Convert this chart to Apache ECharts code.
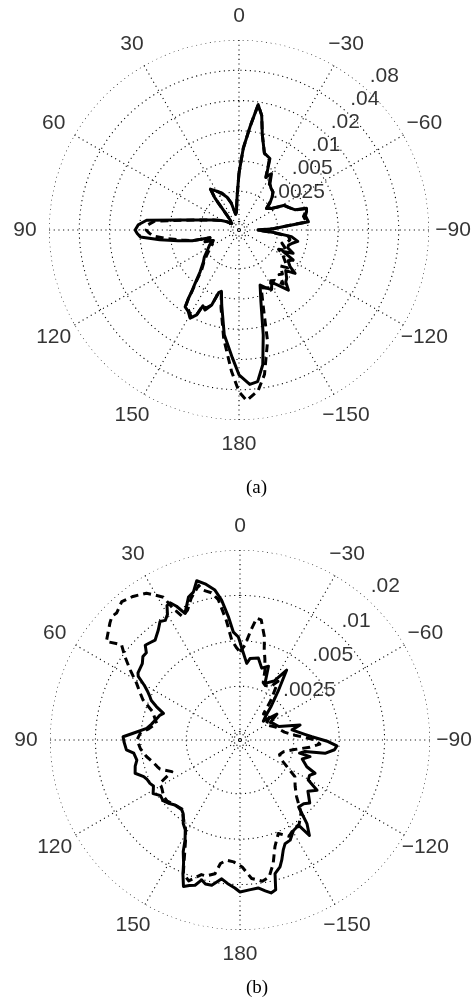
<!DOCTYPE html>
<html><head><meta charset="utf-8">
<script src="https://cdn.jsdelivr.net/npm/echarts@6/dist/echarts.min.js"></script>
<style>html,body{margin:0;padding:0;background:#fff}#c{width:475px;height:1008px}</style>
</head><body><div id="c"></div>
<script>
// ---- tick labels ----
const angleTicks = [0,30,60,90,120,150,180,210,240,270,300,330];
const angleTickLabels = ['0','30','60','90','120','150','180','\u2212150','\u2212120','\u221290','\u221260','\u221230'];
const ringValuesA = [0.00125,0.0025,0.005,0.01,0.02,0.04,0.08];
const ringLabelValuesA = [0.0025,0.005,0.01,0.02,0.04,0.08];
const ringLabelTextA = ['.0025','.005','.01','.02','.04','.08'];
const ringValuesB = [0.00125,0.0025,0.005,0.01,0.02];
const ringLabelValuesB = [0.0025,0.005,0.01,0.02];
const ringLabelTextB = ['.0025','.005','.01','.02'];
const panelLabels = ['(a)','(b)'];

// ---- data: [angle (deg, CCW from top), value] ----
const topSolid = [[0,.00379],[3,.00229],[5.3,.00182],[8,.00156],[12,.00149],[16,.00195],[20,.00229],[25,.00257],[30,.00288],[35,.00323],[37,.00257],[39,.00163],[42,.00136],[50,.00129],[56,.00145],[62,.00163],[69,.00195],[75,.00251],[80,.00388],[84,.00865],[87,.01038],[90,.01112],[92,.01062],[94,.00992],[97,.00642],[100,.00425],[103,.00309],[105,.00205],[109,.00235],[112,.00195],[117,.00219],[124,.00251],[128,.00282],[132,.00309],[137,.00379],[140.5,.00499],[142.5,.00613],[143.5,.0072],[145,.00885],[148,.00926],[151,.01038],[153.5,.00905],[154.5,.00704],[157,.00754],[160,.00642],[162,.00466],[164,.00445],[167,.006],[172,.01164],[177,.01925],[180,.0284],[184,.0357],[187,.0341],[190,.02366],[193,.01218],[197,.00573],[201,.00397],[205,.00445],[208.6,.00488],[212,.00425],[215.5,.00488],[219.4,.00613],[222,.00511],[224.6,.00488],[229,.00425],[232.3,.00523],[234.3,.00435],[238,.00388],[241.1,.00425],[244,.00316],[246.8,.00397],[250,.00338],[253,.00338],[256,.00362],[259,.00406],[262.8,.00346],[266,.00229],[270,.00159],[272,.00229],[274.3,.00282],[276.8,.00511],[282,.00488],[285,.00511],[287.8,.00523],[289.7,.00406],[294,.00362],[298.5,.00338],[303.6,.00251],[308,.00229],[311,.00263],[315,.00302],[318.2,.00331],[323,.00346],[326.4,.00371],[330,.00456],[333,.00406],[335.2,.00511],[336.6,.00613],[341.7,.00657],[346.2,.00969],[348.8,.01497],[351.3,.01882],[353.9,.01112],[357,.00672],[360,.00379]];

const topDashed = [[0,.00379],[3,.00229],[5.3,.00182],[8,.00156],[12,.00149],[16,.00195],[20,.00229],[25,.00263],[30,.00288],[35,.00316],[37,.00257],[39,.00163],[42,.00136],[50,.00129],[56,.00145],[62,.00163],[69,.00195],[75,.00251],[80,.00371],[84,.0072],[87,.00845],[90,.00865],[92,.00807],[94,.00737],[97,.00535],[100,.00388],[103,.00302],[105,.00205],[109,.00229],[112,.00195],[117,.00205],[124,.00235],[128,.00263],[132,.00302],[137,.00362],[140.5,.00488],[142.5,.006],[143.5,.0072],[145,.00865],[148,.00905],[151,.00992],[153.5,.00885],[154.5,.00704],[157,.0072],[160,.00642],[162,.00466],[164,.00445],[167,.00642],[172,.01275],[177,.0265],[180,.0419],[182.6,.0515],[186.8,.0419],[190,.0297],[194.4,.0143],[197,.0072],[201,.00425],[205,.00445],[208.6,.00466],[212,.00406],[215.5,.00425],[219.4,.00511],[222,.00406],[224.6,.00425],[229,.00362],[232.3,.00425],[234.3,.00388],[238,.00346],[241.1,.00323],[244,.00282],[246.8,.00338],[250,.00309],[253,.00288],[256,.00323],[259,.00338],[262.8,.00323],[266,.00219],[270,.00156],[272,.00219],[274.3,.00282],[276.8,.00488],[282,.00466],[285,.00499],[287.8,.00511],[289.7,.00406],[294,.00362],[298.5,.00331],[303.6,.00251],[308,.00229],[311,.00257],[315,.00302],[318.2,.00331],[323,.00346],[326.4,.00362],[330,.00435],[333,.00397],[335.2,.00499],[336.6,.00588],[341.7,.00657],[346.2,.00969],[348.8,.01497],[351.3,.01882],[353.9,.01112],[357,.00672],[360,.00379]];

const bottomSolid = [[0,.00491],[0.9,.0053],[3.5,.00572],[5.4,.0073],[7.5,.00947],[9.5,.0112],[12.6,.01266],[15.2,.01366],[17.5,.01173],[19.8,.0112],[23.5,.00905],[25.4,.01054],[27,.01155],[28.5,.01137],[30,.01007],[32,.00947],[34,.00976],[36.6,.00891],[40.4,.00813],[43.5,.00838],[45,.00851],[47,.00777],[49.3,.00777],[52,.0073],[56.7,.00709],[58,.00687],[60.3,.0059],[62,.00547],[64.3,.00506],[66,.00484],[68.2,.00435],[70.8,.00379],[73,.00397],[76.8,.00415],[80,.00435],[82.9,.00462],[86.4,.00564],[88.4,.00656],[91,.00646],[95,.00627],[97.1,.00564],[101,.00547],[104,.00572],[107.6,.0059],[110.8,.0053],[113,.00514],[115.7,.00506],[118,.00491],[121.6,.00522],[125,.00484],[128.2,.00491],[132,.00469],[135,.00448],[140.2,.00441],[142.3,.00455],[145.8,.00514],[148.6,.00547],[151.2,.00627],[153,.00742],[155.3,.00864],[157,.01022],[158.9,.01209],[160.8,.01155],[162.8,.0112],[164.7,.01007],[166.5,.01054],[169,.01054],[172.5,.00933],[175,.00991],[178,.01054],[180,.0112],[184,.01086],[187,.0107],[189.5,.01137],[191.5,.01191],[193.4,.01155],[194.7,.00905],[197.5,.00838],[199.2,.00765],[201.5,.00667],[203.5,.00618],[206.6,.00608],[210.6,.00547],[213.2,.00538],[214.7,.00547],[216,.00667],[218.7,.00564],[221.2,.00428],[225,.00435],[227.9,.00462],[233,.00403],[236.9,.00448],[239.6,.00368],[243,.00362],[246.1,.00385],[248.2,.0033],[253,.00297],[256.6,.0033],[257.5,.00279],[260,.00301],[261.1,.00409],[264.1,.00469],[266.5,.00484],[269,.00422],[272.6,.0033],[275,.00297],[281,.00247],[284,.00283],[289.1,.00206],[295,.00196],[300,.00188],[305,.00219],[309,.00174],[313,.00188],[317,.00219],[322,.00283],[326.3,.00397],[330,.00311],[336.2,.00283],[338.9,.00368],[343.2,.00346],[347.4,.00397],[353,.00385],[355,.00356],[358.9,.00448],[360,.00491]];

const bottomDashed = [[0,.00422],[357,.00469],[354.4,.0059],[352.2,.00719],[350,.00709],[346.7,.00555],[344.9,.00455],[343,.00403],[340.3,.0034],[338,.00283],[335,.00275],[330,.00283],[327,.0032],[322,.00236],[318,.00188],[310,.00203],[300,.00174],[290,.00196],[280,.00219],[275,.00255],[270,.00346],[267,.00373],[264,.0032],[260,.00255],[255,.00219],[250,.00209],[244.4,.00222],[240,.00255],[236.3,.00301],[230,.0033],[225,.00373],[220,.00469],[215,.0053],[211,.00538],[207,.00572],[202.3,.00514],[198.2,.00608],[195,.00777],[192,.00933],[189,.00976],[184.8,.00918],[181,.00765],[177,.00709],[173.7,.00698],[171,.00742],[169.4,.00877],[166,.00933],[164,.00933],[160,.01086],[157,.01007],[155,.00825],[151,.00608],[148,.0053],[145,.00491],[140,.00435],[135,.00448],[130,.00469],[126.5,.00469],[122,.00448],[118.4,.00441],[114.9,.00346],[110,.00403],[107.8,.00415],[104,.00435],[100,.00469],[95,.00506],[90,.0053],[86,.00506],[83,.00448],[78.7,.00403],[72,.00448],[67.5,.00547],[64,.00608],[61.2,.00667],[57.5,.00801],[54.1,.00962],[51.2,.0112],[53.6,.01387],[48,.01591],[46,.01666],[44.2,.01641],[40.5,.01771],[36.7,.01692],[32.5,.01568],[30.4,.0143],[28.2,.01305],[27,.01054],[25,.00877],[22,.00933],[19,.01086],[15,.01266],[13.7,.01155],[11,.01086],[8.8,.00962],[6.5,.00687],[4.7,.00506],[2,.00448],[0,.00422]];

const FONT = '"Liberation Sans", Arial, Helvetica, sans-serif';
const DOT = {color:'#000', width:1.1, type:[1.1,3.6]};

function ringSeries(v, pi) {
  const d = [];
  for (let a = 0; a <= 360; a += 2) d.push([v, a]);
  return {type:'line', coordinateSystem:'polar', polarIndex:pi, data:d, symbol:'none', silent:true,
          lineStyle:DOT, z:1, clip:false};
}
function curve(arr, pi, dashed) {
  return {type:'line', coordinateSystem:'polar', polarIndex:pi, data:arr.map(p => [p[1], p[0]]),
          symbol:'none', silent:true, z:dashed ? 3 : 4, clip:false,
          lineStyle:{color:'#000', width:3, type:dashed ? [8,5] : 'solid', join:'round'}};
}
function angleLabelSeries(pi) {
  return {type:'scatter', coordinateSystem:'polar', polarIndex:pi, symbolSize:1, silent:true,
          itemStyle:{color:'rgba(0,0,0,0)'},
          data: angleTicks.map(a => [1, a]),
          label:{show:true, position:'inside', color:'#000', fontSize:21, fontFamily:FONT,
                 formatter: p => angleTickLabels[p.dataIndex]}};
}
function ringLabelSeries(vals, texts, pi) {
  return {type:'scatter', coordinateSystem:'polar', polarIndex:pi, symbolSize:1, silent:true,
          itemStyle:{color:'rgba(0,0,0,0)'}, z:5,
          data: vals.map(v => [v, 320]),
          label:{show:true, position:[9,-8], align:'left', verticalAlign:'middle', color:'#000',
                 fontSize:21, fontFamily:FONT, formatter: p => texts[p.dataIndex]}};
}
function mainAngleAxis(pi) {
  return {polarIndex:pi, type:'value', min:0, max:360, interval:30, startAngle:90, clockwise:false,
          axisLine:{show:false}, axisTick:{show:false}, axisLabel:{show:false},
          splitLine:{show:true, lineStyle:DOT}};
}
function hiddenAngleAxis(pi) {
  return {polarIndex:pi, type:'value', min:0, max:360, interval:30, startAngle:90, clockwise:false, show:false};
}

const chart = echarts.init(document.getElementById('c'), null, {renderer:'canvas'});
chart.setOption({
  animation:false,
  backgroundColor:'#fff',
  title: [
    {text:panelLabels[0], left:241, top:474, textStyle:{fontFamily:'"Liberation Serif", "Times New Roman", serif', fontSize:19, fontWeight:'normal', color:'#000'}},
    {text:panelLabels[1], left:241, top:974, textStyle:{fontFamily:'"Liberation Serif", "Times New Roman", serif', fontSize:19, fontWeight:'normal', color:'#000'}}
  ],
  polar: [
    {center:[239,230], radius:190},
    {center:[239,230], radius:214},
    {center:[240,740], radius:190},
    {center:[240,740], radius:214}
  ],
  angleAxis: [mainAngleAxis(0), hiddenAngleAxis(1), mainAngleAxis(2), hiddenAngleAxis(3)],
  radiusAxis: [
    {polarIndex:0, type:'log', logBase:2, min:0.00103, max:0.08, axisLine:{show:false}, axisTick:{show:false}, axisLabel:{show:false}, splitLine:{show:false}},
    {polarIndex:1, type:'value', min:0, max:1, show:false},
    {polarIndex:2, type:'log', logBase:2, min:0.0011, max:0.02, axisLine:{show:false}, axisTick:{show:false}, axisLabel:{show:false}, splitLine:{show:false}},
    {polarIndex:3, type:'value', min:0, max:1, show:false}
  ],
  series: [
    ...ringValuesA.map(v => ringSeries(v, 0)),
    ...ringValuesB.map(v => ringSeries(v, 2)),
    curve(topDashed, 0, true),
    curve(topSolid, 0, false),
    curve(bottomDashed, 2, true),
    curve(bottomSolid, 2, false),
    angleLabelSeries(1),
    angleLabelSeries(3),
    ringLabelSeries(ringLabelValuesA, ringLabelTextA, 0),
    ringLabelSeries(ringLabelValuesB, ringLabelTextB, 2)
  ]
});
</script></body></html>
